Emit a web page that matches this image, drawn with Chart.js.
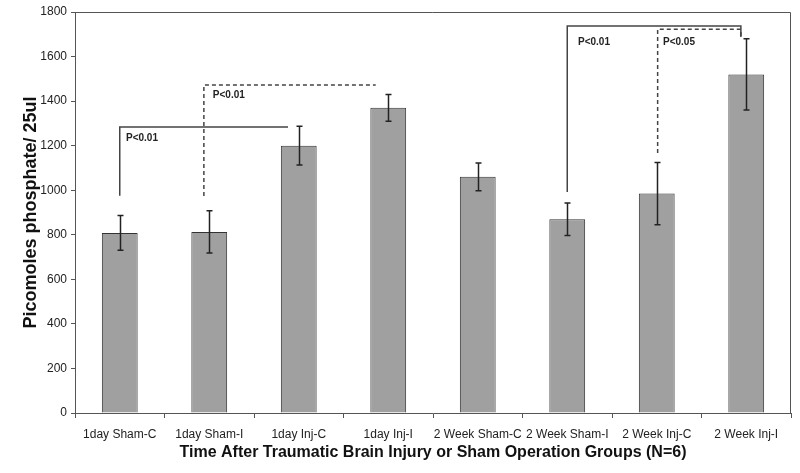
<!DOCTYPE html>
<html>
<head>
<meta charset="utf-8">
<script src="https://cdn.jsdelivr.net/npm/chart.js@4/dist/chart.umd.min.js"></script>
<style>
    body { margin: 0; background: #fff; }
    #wrap { width: 800px; height: 473px; }
</style>
</head>
<body>
<div id="wrap"><canvas id="atpChart"></canvas></div>
<script>
// 資料
const groups = ['1day Sham-C', '1day Sham-I', '1day Inj-C', '1day Inj-I',
    '2 Week Sham-C', '2 Week Sham-I', '2 Week Inj-C', '2 Week Inj-I'];
const means = [808, 813, 1200, 1370, 1060, 870, 985, 1520];
const errors = [78, 95, 87, 60, 62, 73, 140, 160];
const yTicks = [0, 200, 400, 600, 800, 1000, 1200, 1400, 1600, 1800];

// 顯著性標記 (x 以類別索引表示, y 以數值表示)
const brackets = [
    { x1: 0, x2: 1.88, top: 1284, left: 975, right: null, dashed: false, label: 'P<0.01', lx: 0.07, ly: 1234 },
    { x1: 0.94, x2: 2.86, top: 1472, left: 974, right: null, dashed: true, label: 'P<0.01', lx: 1.04, ly: 1427 },
    { x1: 5.0, x2: 6.94, top: 1737, left: 992, right: 1688, dashed: false, label: 'P<0.01', lx: 5.12, ly: 1665 },
    { x1: 6.01, x2: 6.94, top: 1723, left: 1167, right: 1688, dashed: true, label: 'P<0.05', lx: 6.07, ly: 1665 }
];

const sans = "'Liberation Sans', Arial, sans-serif";

// 誤差線與外框
const extrasPlugin = {
    id: 'extras',
    afterDatasetsDraw(chart) {
        const ctx = chart.ctx;
        const xs = chart.scales.x;
        const ys = chart.scales.y;
        const area = chart.chartArea;

        ctx.save();
        // 外框 (上、右)
        ctx.strokeStyle = '#555';
        ctx.lineWidth = 1;
        ctx.beginPath();
        ctx.moveTo(area.left, area.top + 0.5);
        ctx.lineTo(area.right - 0.5, area.top + 0.5);
        ctx.lineTo(area.right - 0.5, area.bottom);
        ctx.stroke();

        // 誤差線
        ctx.strokeStyle = '#222';
        ctx.lineWidth = 1.5;
        means.forEach((m, i) => {
            const x = Math.round(xs.getPixelForValue(i)) + 0.5;
            const hi = ys.getPixelForValue(m + errors[i]);
            const lo = ys.getPixelForValue(m - errors[i]);
            ctx.beginPath();
            ctx.moveTo(x, hi);
            ctx.lineTo(x, lo);
            ctx.moveTo(x - 3, hi);
            ctx.lineTo(x + 3, hi);
            ctx.moveTo(x - 3, lo);
            ctx.lineTo(x + 3, lo);
            ctx.stroke();
        });

        // 顯著性括號
        const step = xs.getPixelForValue(1) - xs.getPixelForValue(0);
        const px = v => xs.getPixelForValue(0) + v * step;
        brackets.forEach(b => {
            ctx.strokeStyle = '#444';
            ctx.lineWidth = 1.5;
            ctx.setLineDash(b.dashed ? [4, 3] : []);
            ctx.beginPath();
            ctx.moveTo(px(b.x1), ys.getPixelForValue(b.left));
            ctx.lineTo(px(b.x1), ys.getPixelForValue(b.top));
            ctx.lineTo(px(b.x2), ys.getPixelForValue(b.top));
            if (b.right !== null) {
                ctx.lineTo(px(b.x2), ys.getPixelForValue(b.right));
            }
            ctx.stroke();
            ctx.setLineDash([]);
            ctx.fillStyle = '#222';
            ctx.font = 'bold 10px ' + sans;
            ctx.textAlign = 'left';
            ctx.textBaseline = 'middle';
            ctx.fillText(b.label, px(b.lx), ys.getPixelForValue(b.ly));
        });
        ctx.restore();
    }
};

new Chart(document.getElementById('atpChart'), {
    type: 'bar',
    data: {
        labels: groups,
        datasets: [{
            data: means,
            backgroundColor: '#a0a0a0',
            borderColor: '#333',
            borderWidth: 1,
            barPercentage: 0.4,
            categoryPercentage: 1.0
        }]
    },
    options: {
        responsive: true,
        maintainAspectRatio: false,
        animation: false,
        layout: { padding: { top: 12, right: 9, left: 0, bottom: 0 } },
        plugins: {
            legend: { display: false },
            tooltip: { enabled: false }
        },
        scales: {
            x: {
                grid: { display: true, drawOnChartArea: false, drawTicks: true, tickLength: 5, color: '#555' },
                border: { color: '#555', width: 1 },
                ticks: { color: '#222', font: { family: sans, size: 12 }, maxRotation: 0, autoSkip: false, padding: 9 },
                title: {
                    display: true,
                    text: 'Time After Traumatic Brain Injury or Sham Operation Groups (N=6)',
                    color: '#111',
                    font: { family: sans, size: 16, weight: 'bold' },
                    padding: { top: 0, bottom: 11 }
                },
                afterFit(scale) { scale.height = 60; }
            },
            y: {
                min: 0,
                max: 1800,
                afterBuildTicks(scale) { scale.ticks = yTicks.map(v => ({ value: v })); },
                grid: { display: true, drawOnChartArea: false, drawTicks: true, tickLength: 4, color: '#555' },
                border: { color: '#555', width: 1 },
                ticks: { color: '#222', font: { family: sans, size: 12 }, padding: 4, callback: v => String(v) },
                title: {
                    display: true,
                    text: 'Picomoles phosphate/ 25ul',
                    color: '#111',
                    font: { family: sans, size: 18, weight: 'bold' },
                    padding: { top: 20, bottom: 0 }
                },
                afterFit(scale) { scale.width = 75; }
            }
        }
    },
    plugins: [extrasPlugin]
});
</script>
</body>
</html>
